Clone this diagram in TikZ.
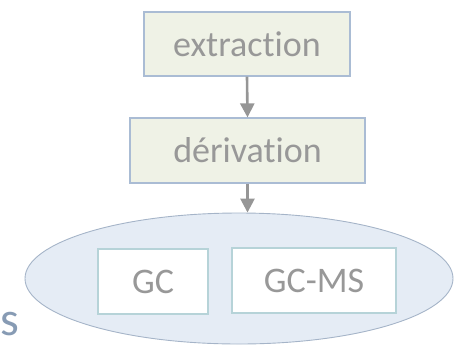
\documentclass[tikz,border=0pt]{standalone}
\usepackage{fontspec}
\setmainfont{Carlito}[Ligatures=NoCommon]
\usetikzlibrary{shapes.geometric,arrows.meta}
\definecolor{txtgray}{RGB}{152,152,152}
\definecolor{stepfill}{RGB}{239,242,230}
\definecolor{stepline}{RGB}{170,188,212}
\definecolor{ellfill}{RGB}{229,236,245}
\definecolor{ellline}{RGB}{165,180,200}
\definecolor{boxline}{RGB}{182,211,216}
\definecolor{arrowgray}{RGB}{150,150,150}
\definecolor{sidetext}{RGB}{135,155,180}
\tikzset{
  stepbox/.style={draw=stepline, fill=stepfill, line width=1.2pt, inner sep=0pt,
    text=txtgray, font=\fontsize{36}{40}\selectfont},
  instbox/.style={draw=boxline, fill=white, line width=1.4pt, inner sep=0pt,
    text=txtgray, font=\fontsize{36}{40}\selectfont},
  flow/.style={draw=arrowgray, line width=2.6pt,
    -{Triangle[length=14pt,width=14pt]}},
}
\begin{document}
\begin{tikzpicture}[x=1pt,y=1pt]
  \useasboundingbox (0,0) rectangle (454,-346);
  % preparation steps
  \node[stepbox, minimum width=206pt, minimum height=64pt] (extr) at (247,-44) {extraction};
  \node[stepbox, minimum width=235pt, minimum height=65pt] (deriv) at (247.5,-150.5) {dérivation};
  % analysis group
  \node[ellipse, draw=ellline, fill=ellfill, line width=0.9pt, inner sep=0pt,
        minimum width=428pt, minimum height=131pt] (ell) at (239,-278.5) {};
  \node[instbox, minimum width=110pt, minimum height=65pt] (gc) at (153,-281.5) {GC};
  \node[instbox, minimum width=164pt, minimum height=65pt] (gcms) at (314,-280.5) {GC-MS};
  % side label
  \node[anchor=base west, inner sep=0pt, text=sidetext,
        font=\fontsize{48}{52}\selectfont] (side) at (0,-335) {s};
  % flow arrows
  \draw[flow] (extr.south) -- (deriv.north);
  \draw[flow] (deriv.south) -- (deriv.south |- ell.north);
\end{tikzpicture}
\end{document}
